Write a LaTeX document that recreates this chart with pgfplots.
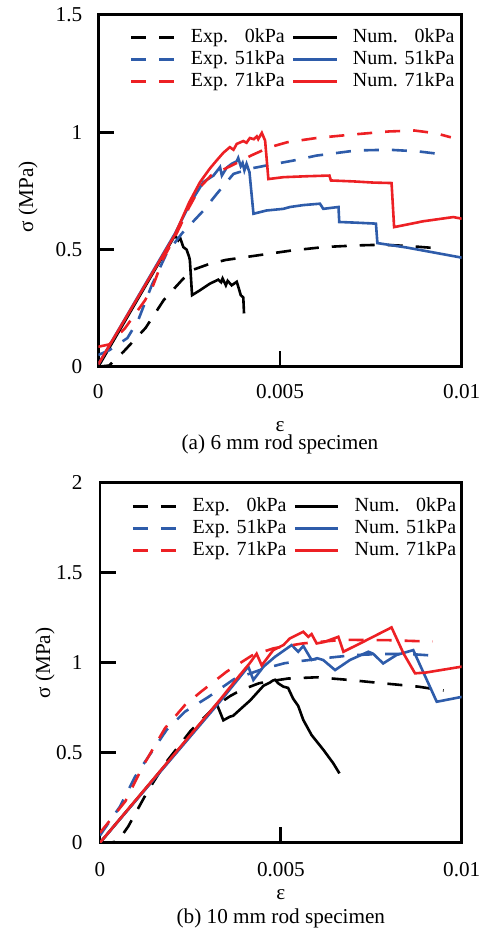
\documentclass[border=0pt]{standalone}
\usepackage{fontspec}
\setmainfont{Liberation Serif}
\usepackage{pgfplots}
\pgfplotsset{compat=1.18}
\definecolor{cred}{RGB}{237,32,36}
\definecolor{cblue}{RGB}{46,92,170}
\pgfplotsset{
 myaxis/.style={
  scale only axis,
  xmin=0, xmax=0.01,
  axis line style={line width=1.4bp},
  tick align=inside, tick pos=left, major tick length=8bp,
  every tick/.style={black,line width=1.4bp},
  xtick={0,0.005,0.01}, xticklabels={0,0.005,0.01},
  scaled x ticks=false, scaled y ticks=false,
  /pgf/number format/assume math mode=true,
  xlabel={ε}, ylabel={σ (MPa)},
  legend columns=2,
  legend cell align=left,
  legend style={draw=none, fill=none, inner sep=0pt, outer sep=0pt, anchor=north west,
    font=\fontsize{10bp}{12bp}\selectfont,
    nodes={inner sep=0pt, text height=7bp, text depth=2bp},
    row sep=2bp,
    /tikz/every odd column/.append style={column sep=7.5bp},
    /tikz/every even column/.append style={column sep=3.5bp}},
  legend image code/.code={\draw[##1] (0bp,0bp) -- (21.7bp,0bp);},
 },
 expl/.style={dash pattern=on 7.5bp off 6.5bp, line width=1.3bp},
 numl/.style={solid, line width=1.3bp},
}
\begin{document}
\fontsize{10.6bp}{12.7bp}\selectfont
\begin{tikzpicture}
\path[use as bounding box] (0,0) rectangle (243bp,466.5bp);
% ---------------- (a) ----------------
\begin{axis}[myaxis, name=top,
  at={(49.15bp,283.15bp)}, anchor=south west,
  width=181.7bp, height=175.9bp,
  ymin=0, ymax=1.5, ytick={0,0.5,1,1.5}, yticklabels={\raisebox{-4bp}{0},0.5,1,1.5},
  xticklabel style={yshift=-5.3bp}, yticklabel style={xshift=-4.3bp},
  xlabel style={at={(axis description cs:0.5,0)}, anchor=center, inner sep=0pt, yshift=-29.8bp},
  ylabel style={at={(axis description cs:-0.1933,0.4825)}, anchor=center},
  legend style={at={(axis description cs:0.0872,0.9615)}},
]
\addplot[black, expl] coordinates {(0,0) (0.0003,0.005) (0.0007,0.065) (0.0013,0.165) (0.0018,0.284) (0.0023,0.369) (0.00255,0.41) (0.003,0.435) (0.0035,0.455) (0.0044,0.475) (0.0053,0.495) (0.0062,0.51) (0.0071,0.517) (0.0078,0.52) (0.0085,0.515) (0.0095,0.503)};
\addlegendentry{Exp. \phantom{5}0kPa}
\addplot[black, numl] coordinates {(0,0) (0.00211,0.56) (0.0022,0.539) (0.00225,0.55) (0.00234,0.51) (0.00243,0.499) (0.0025,0.468) (0.00252,0.454) (0.00258,0.305) (0.0028,0.326) (0.00307,0.354) (0.0033,0.371) (0.00338,0.36) (0.00342,0.376) (0.00351,0.347) (0.00356,0.366) (0.00367,0.347) (0.00381,0.362) (0.00386,0.337) (0.00392,0.305) (0.00399,0.295) (0.00401,0.227)};
\addlegendentry{Num. \phantom{5}0kPa}
\addplot[cblue, expl] coordinates {(0,0.05) (0.0003,0.07) (0.0008,0.122) (0.0011,0.199) (0.00147,0.347) (0.00188,0.483) (0.0023,0.568) (0.00289,0.665) (0.00326,0.737) (0.00372,0.822) (0.0042,0.845) (0.00463,0.858) (0.00537,0.879) (0.006,0.90) (0.0071,0.922) (0.008,0.925) (0.0088,0.918) (0.0095,0.905)};
\addlegendentry{Exp. 51kPa}
\addplot[cblue, numl] coordinates {(0,0.01) (0.0021,0.565) (0.00252,0.695) (0.00289,0.787) (0.00317,0.815) (0.00335,0.851) (0.0034,0.815) (0.00353,0.848) (0.00367,0.865) (0.00381,0.876) (0.00385,0.89) (0.00392,0.855) (0.00397,0.869) (0.00402,0.837) (0.00408,0.865) (0.00416,0.829) (0.00427,0.652) (0.00463,0.666) (0.00509,0.673) (0.00528,0.681) (0.00564,0.689) (0.0061,0.695) (0.00619,0.673) (0.00661,0.681) (0.00663,0.617) (0.00711,0.614) (0.00764,0.61) (0.00768,0.527) (0.00849,0.508) (0.01,0.465)};
\addlegendentry{Num. 51kPa}
\addplot[cred, expl] coordinates {(0,0.085) (0.0003,0.095) (0.00073,0.163) (0.00129,0.284) (0.00151,0.347) (0.00179,0.462) (0.0021,0.55) (0.0025,0.68) (0.0028,0.765) (0.0031,0.815) (0.0037,0.86) (0.0042,0.90) (0.0047,0.935) (0.0052,0.957) (0.006,0.975) (0.007,0.99) (0.008,1.003) (0.0087,1.007) (0.0093,0.995) (0.0097,0.978)};
\addlegendentry{Exp. 71kPa}
\addplot[cred, numl] coordinates {(0,0.01) (0.0021,0.56) (0.0025,0.70) (0.0028,0.787) (0.00307,0.845) (0.00326,0.88) (0.00344,0.912) (0.00362,0.936) (0.00372,0.925) (0.00381,0.95) (0.00399,0.962) (0.00408,0.955) (0.00417,0.975) (0.00428,0.97) (0.00436,0.982) (0.0044,0.97) (0.0045,0.997) (0.00459,0.964) (0.00468,0.80) (0.00509,0.808) (0.00573,0.812) (0.00636,0.815) (0.0064,0.794) (0.00702,0.79) (0.00757,0.785) (0.00807,0.783) (0.00814,0.595) (0.00894,0.62) (0.00977,0.638) (0.01,0.631)};
\addlegendentry{Num. 71kPa}
\end{axis}
\node[inner sep=0pt] at ([yshift=-38.9bp]top.south) {(a) 6 mm rod specimen};
% ---------------- (b) ----------------
\begin{axis}[myaxis, name=bot,
  at={(50bp,45.15bp)}, anchor=south west,
  width=180.85bp, height=180bp,
  ymin=0, ymax=2, ytick={0,0.5,1,1.5,2}, yticklabels={0,0.5,1,1.5,2},
  xticklabel style={yshift=-6.3bp}, yticklabel style={xshift=-5bp},
  xlabel style={at={(axis description cs:0.5,0)}, anchor=center, inner sep=0pt, yshift=-26.2bp},
  ylabel style={at={(axis description cs:-0.152,0.499)}, anchor=center},
  legend style={at={(axis description cs:0.0876,0.9586)}},
]
\addplot[black, expl] coordinates {(0,0) (0.0003,0) (0.0005,0.01) (0.00078,0.09) (0.0013,0.28) (0.0018,0.44) (0.0025,0.62) (0.0032,0.76) (0.0036,0.815) (0.0039,0.848) (0.0044,0.886) (0.0048,0.9) (0.0052,0.912) (0.006,0.919) (0.0069,0.904) (0.0078,0.886) (0.0088,0.867) (0.0095,0.845)};
\addlegendentry{Exp. \phantom{5}0kPa}
\addplot[black, numl] coordinates {(0,0) (0.00323,0.77) (0.00341,0.68) (0.00359,0.70) (0.00368,0.705) (0.00396,0.756) (0.00415,0.79) (0.00433,0.83) (0.00452,0.872) (0.0047,0.89) (0.00477,0.9) (0.00484,0.905) (0.00493,0.885) (0.00507,0.867) (0.0052,0.86) (0.00534,0.80) (0.00548,0.76) (0.00562,0.682) (0.00585,0.598) (0.00618,0.515) (0.00645,0.441) (0.00662,0.385)};
\addlegendentry{Num. \phantom{5}0kPa}
\addplot[cblue, expl] coordinates {(0,0.04) (0.0001,0.07) (0.00055,0.2) (0.00097,0.367) (0.00134,0.478) (0.00184,0.626) (0.00235,0.728) (0.003,0.81) (0.0037,0.908) (0.0045,0.965) (0.0051,0.997) (0.0055,1.008) (0.0062,1.025) (0.007,1.042) (0.0077,1.048) (0.0085,1.049) (0.0094,1.037)};
\addlegendentry{Exp. 51kPa}
\addplot[cblue, numl] coordinates {(0,0) (0.0033,0.78) (0.0041,0.978) (0.00424,0.904) (0.00452,0.978) (0.00484,1.033) (0.0053,1.098) (0.00548,1.061) (0.00562,1.093) (0.00585,1.015) (0.006,1.025) (0.00617,1.015) (0.0065,0.959) (0.00691,1.015) (0.00742,1.061) (0.00755,1.05) (0.00783,0.996) (0.0082,1.043) (0.00866,1.07) (0.00931,0.783) (0.01,0.81)};
\addlegendentry{Num. 51kPa}
\addplot[cred, expl] coordinates {(0,0.055) (0.0007,0.23) (0.0012,0.43) (0.0018,0.637) (0.00235,0.765) (0.0028,0.84) (0.0035,0.95) (0.0042,1.04) (0.0048,1.08) (0.0056,1.107) (0.0067,1.127) (0.008,1.125) (0.0092,1.117)};
\addlegendentry{Exp. 71kPa}
\addplot[cred, numl] coordinates {(0,0) (0.0033,0.79) (0.0038,0.915) (0.00415,1.0) (0.00433,1.05) (0.00447,0.985) (0.00479,1.07) (0.00507,1.098) (0.00525,1.135) (0.00562,1.172) (0.00576,1.144) (0.00585,1.159) (0.00599,1.107) (0.0062,1.115) (0.00659,1.144) (0.00673,1.061) (0.00719,1.107) (0.00765,1.154) (0.00806,1.196) (0.00839,1.052) (0.00871,0.941) (0.009,0.945) (0.01,0.978)};
\addlegendentry{Num. 71kPa}
\end{axis}
\node[inner sep=0pt] at ([yshift=-37.7bp]bot.south) {(b) 10 mm rod specimen};
\end{tikzpicture}
\end{document}
